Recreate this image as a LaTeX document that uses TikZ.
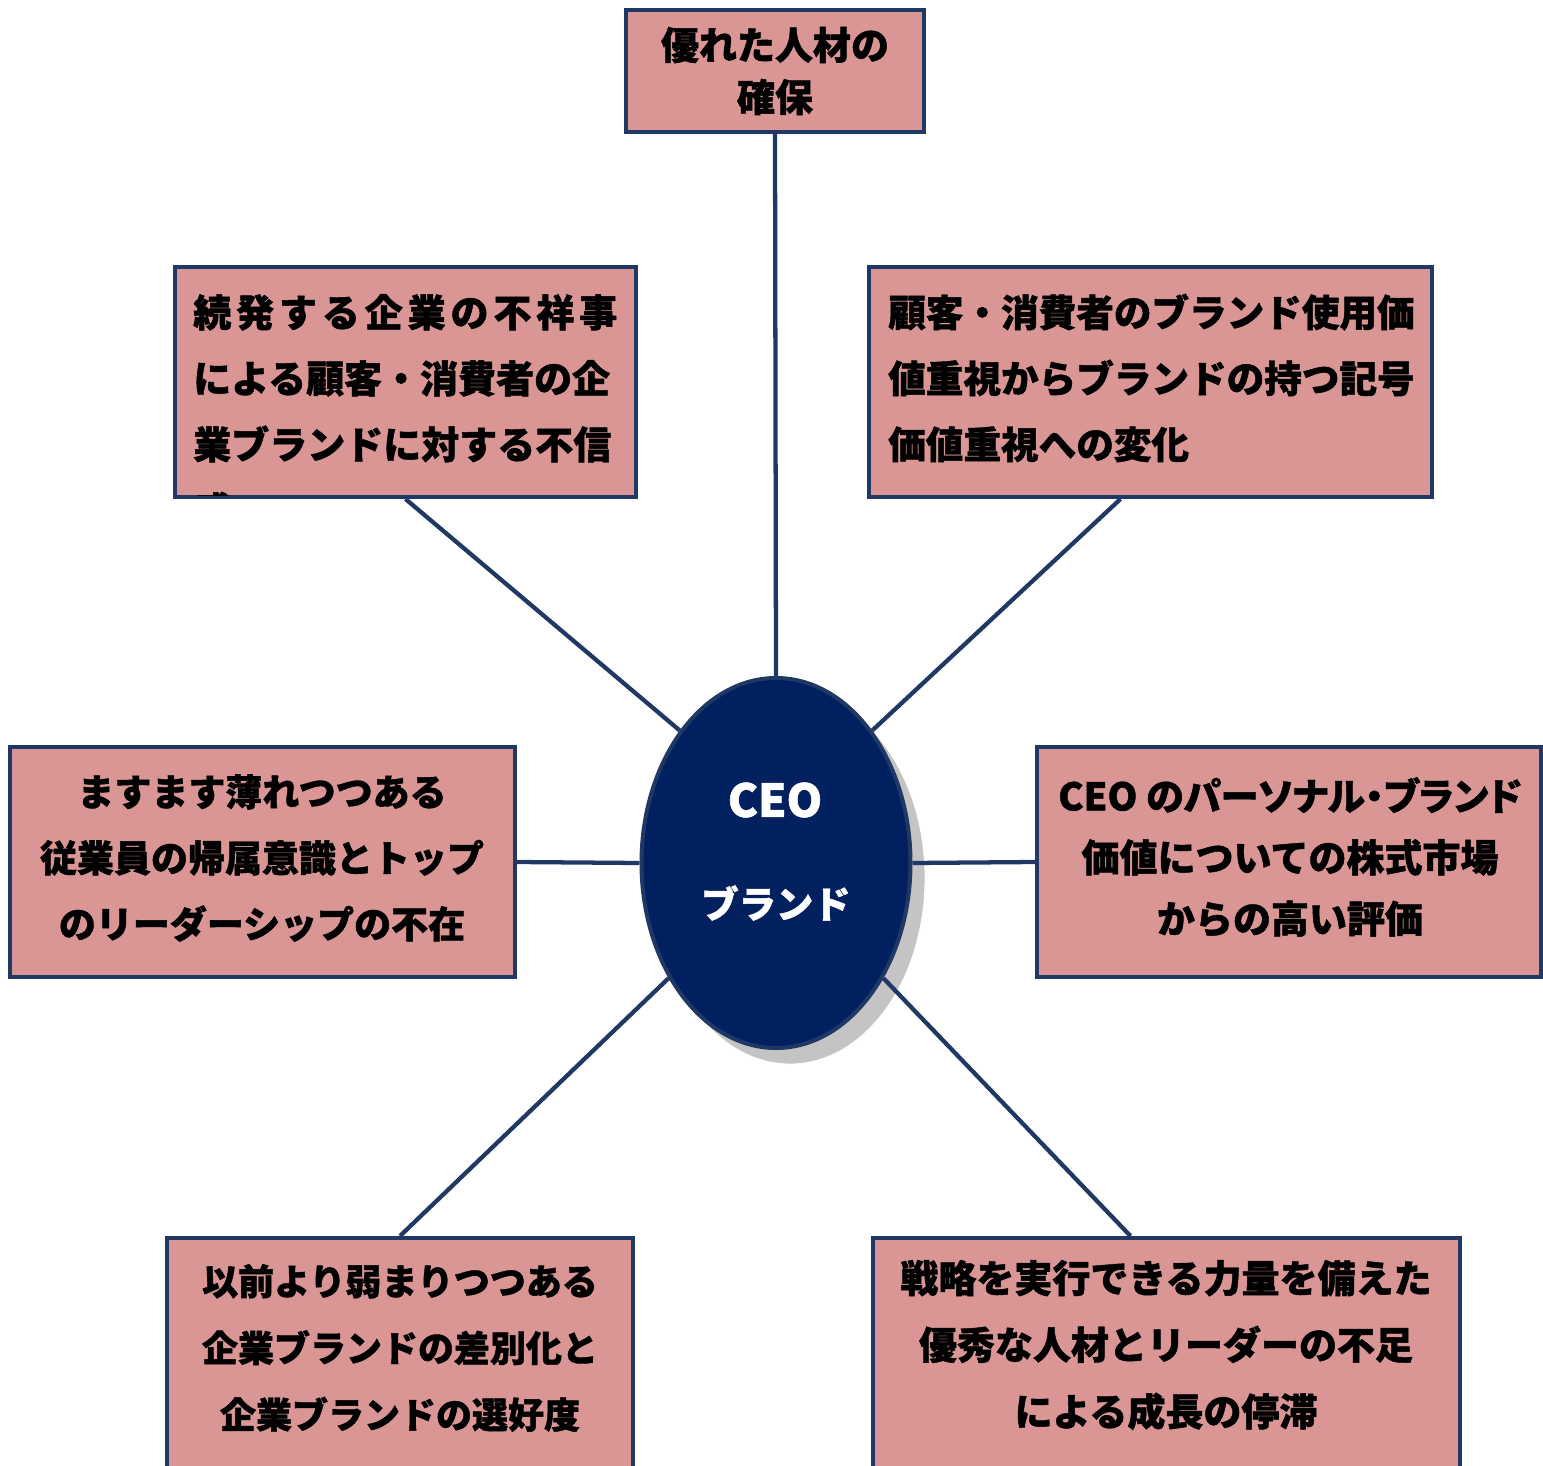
\documentclass[tikz,border=0pt]{standalone}
\usepackage{fontspec}
\newfontfamily\cjk{Noto Sans CJK JP}[BoldFeatures={FakeBold=1.2}]
\usetikzlibrary{calc,shapes.geometric}
\definecolor{edgeblue}{RGB}{31,56,100}
\definecolor{boxfill}{RGB}{217,150,148}
\definecolor{ovalfill}{RGB}{0,32,96}
\definecolor{shadowgray}{RGB}{196,196,196}
\newcommand\PX{0.75pt}
\begin{document}
\begin{tikzpicture}[x=0.75pt,y=-0.75pt,
  box/.style={draw=edgeblue,fill=boxfill,line width=3pt,rectangle,inner sep=0pt},
  txt/.style={font=\cjk\bfseries\fontsize{28.5pt}{49.5pt}\selectfont,inner sep=0pt,text=black},
  link/.style={draw=edgeblue,line width=3.2pt}]
\useasboundingbox (0,0) rectangle (1543,1466);
\clip (0,0) rectangle (1543,1466);
% shadow + centre
\fill[shadowgray,draw=white,line width=0.6pt] (790,878) ellipse [x radius=135, y radius=186];
\node[ellipse,draw=edgeblue,fill=ovalfill,line width=3pt,minimum width=269*\PX,minimum height=370*\PX,inner sep=0pt] (ceo) at (776,863) {};
\node[font=\cjk\bfseries\fontsize{34pt}{34pt}\selectfont,text=white,inner sep=0pt] (ceoa) at (775,800) {CEO};
\node[font=\cjk\bfseries\fontsize{28pt}{28pt}\selectfont,text=white,inner sep=0pt] (ceob) at (776,903) {ブランド};
% boxes
\node[box,minimum width=298*\PX,minimum height=122*\PX] (top) at (775,71) {};
\node[box,minimum width=461*\PX,minimum height=230*\PX] (tl) at (405.5,382) {};
\node[box,minimum width=563*\PX,minimum height=230*\PX] (tr) at (1150.5,382) {};
\node[box,minimum width=505*\PX,minimum height=230*\PX] (lb) at (262.5,862) {};
\node[box,minimum width=504*\PX,minimum height=230*\PX] (rb) at (1289,862) {};
\node[box,minimum width=466*\PX,minimum height=244*\PX] (bl) at (400,1360) {};
\node[box,minimum width=587*\PX,minimum height=244*\PX] (br) at (1166.5,1360) {};
% connectors
\draw[link] (top.south) -- (ceo.north);
\draw[link] (tl.south) -- (ceo.126);
\draw[link] ($(tr.south)+(-30,0)$) -- (ceo.54);
\draw[link] (lb.east) -- (ceo.west);
\draw[link] (rb.west) -- (ceo.east);
\draw[link] (bl.north) -- (ceo.227);
\draw[link] ($(br.north)+(-36,0)$) -- (ceo.313);
% texts
\node[txt,align=center,font=\cjk\bfseries\fontsize{28.5pt}{39pt}\selectfont] (toptxt) at (775,71) {優れた人材の\\確保};
\begin{scope}
\clip (176.5,268.5) rectangle (634.5,495.5);
\node[txt,align=left,anchor=west] (tltxt) at (193,411) {\makebox[318pt][s]{続\hfill 発\hfill す\hfill る\hfill 企\hfill 業\hfill の\hfill 不\hfill 祥\hfill 事}\\による顧客・消費者の企\\業ブランドに対する不信\\感};
\end{scope}
\node[txt,align=left,anchor=west,font=\cjk\bfseries\fontsize{28.2pt}{49.5pt}\selectfont] (trtxt) at (888,378) {顧客・消費者のブランド使用価\\値重視からブランドの持つ記号\\価値重視への変化};
\node[txt,align=center,font=\cjk\bfseries\fontsize{27.75pt}{49.5pt}\selectfont] (lbtxt) at (262,858) {ますます薄れつつある\\従業員の帰属意識とトップ\\のリーダーシップの不在};
\node[txt,align=center,font=\cjk\bfseries\fontsize{28.5pt}{46pt}\selectfont] (rbtxt) at (1290,857) {{\addfontfeature{RawFeature=+palt}CEO のパーソナル・ブランド}\\価値についての株式市場\\からの高い評価};
\node[txt,align=center,font=\cjk\bfseries\fontsize{27pt}{50pt}\selectfont] (bltxt) at (400,1348) {以前より弱まりつつある\\企業ブランドの差別化と\\企業ブランドの選好度};
\node[txt,align=center,font=\cjk\bfseries\fontsize{28.5pt}{50pt}\selectfont] (brtxt) at (1166,1345) {戦略を実行できる力量を備えた\\優秀な人材とリーダーの不足\\による成長の停滞};
\end{tikzpicture}
\end{document}
